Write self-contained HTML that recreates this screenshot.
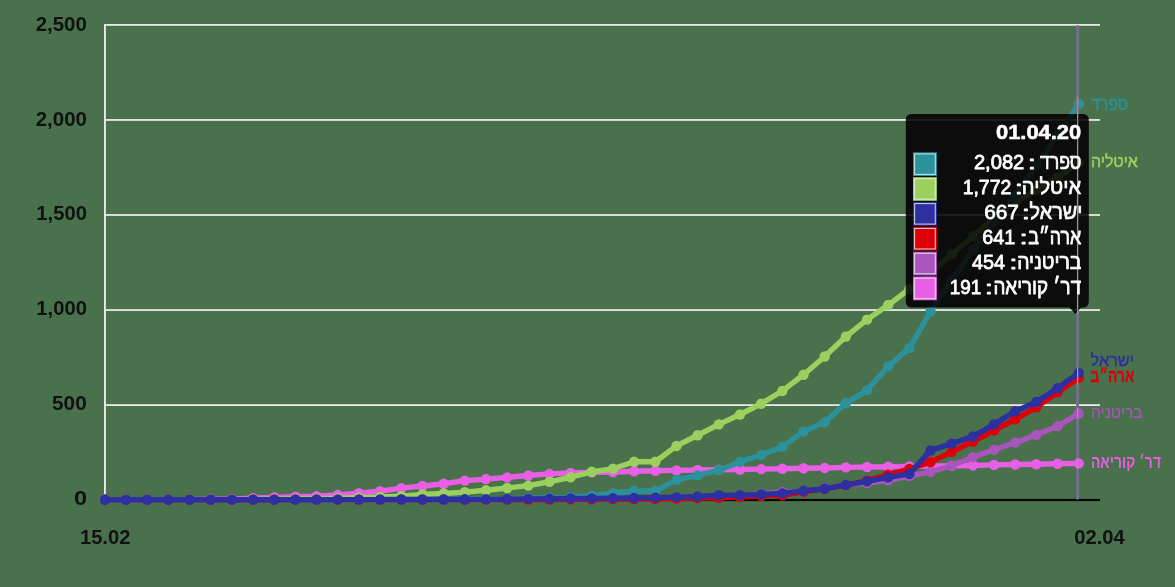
<!DOCTYPE html>
<html><head><meta charset="utf-8"><title>chart</title>
<style>
html,body{margin:0;padding:0;background:#48714c;}
body{width:1175px;height:587px;overflow:hidden;position:relative;font-family:"Liberation Sans",sans-serif;}
svg text{font-family:"Liberation Sans",sans-serif;}
svg{will-change:transform;}
</style></head><body>
<svg width="1175" height="587" viewBox="0 0 1175 587" style="position:absolute;left:0;top:0">
<rect width="1175" height="587" fill="#48714c"/>
<g id="plot">
<rect x="104" y="24.00" width="996" height="1.8" fill="#ece6ea"/>
<rect x="104" y="119.05" width="996" height="1.8" fill="#ece6ea"/>
<rect x="104" y="214.10" width="996" height="1.8" fill="#ece6ea"/>
<rect x="104" y="309.15" width="996" height="1.8" fill="#ece6ea"/>
<rect x="104" y="404.20" width="996" height="1.8" fill="#ece6ea"/>
<rect x="104.0" y="24" width="1.9" height="476" fill="#ece6ea"/>
<rect x="104" y="498.9" width="996" height="2.2" fill="#050505"/>
<rect x="1076.1" y="25.3" width="2.9" height="474.2" fill="#72728a"/>
<polyline points="104.90,499.60 126.07,499.59 147.24,499.59 168.41,499.59 189.58,499.59 210.75,499.32 231.92,498.96 253.09,498.10 274.26,497.50 295.43,496.64 316.60,496.11 337.77,495.06 358.94,493.22 380.11,491.11 401.28,488.13 422.45,485.98 443.62,483.78 464.79,480.66 485.96,479.07 507.13,477.36 528.30,475.49 549.47,473.86 570.64,472.85 591.81,472.25 612.98,472.11 634.15,471.24 655.32,470.82 676.49,470.40 697.66,470.02 718.83,469.74 740.00,469.47 761.17,469.17 782.34,468.82 803.51,468.25 824.68,467.93 845.85,467.40 867.02,467.04 888.19,466.81 909.36,466.53 930.53,466.16 951.70,465.78 972.87,465.44 994.04,464.91 1015.21,464.53 1036.38,464.25 1057.55,463.77 1078.72,463.41" fill="none" stroke="#e85fe6" stroke-width="5.4" stroke-linejoin="round" stroke-linecap="round"/>
<g fill="#e85fe6"><circle cx="104.90" cy="499.60" r="5.2"/><circle cx="126.07" cy="499.59" r="5.2"/><circle cx="147.24" cy="499.59" r="5.2"/><circle cx="168.41" cy="499.59" r="5.2"/><circle cx="189.58" cy="499.59" r="5.2"/><circle cx="210.75" cy="499.32" r="5.2"/><circle cx="231.92" cy="498.96" r="5.2"/><circle cx="253.09" cy="498.10" r="5.2"/><circle cx="274.26" cy="497.50" r="5.2"/><circle cx="295.43" cy="496.64" r="5.2"/><circle cx="316.60" cy="496.11" r="5.2"/><circle cx="337.77" cy="495.06" r="5.2"/><circle cx="358.94" cy="493.22" r="5.2"/><circle cx="380.11" cy="491.11" r="5.2"/><circle cx="401.28" cy="488.13" r="5.2"/><circle cx="422.45" cy="485.98" r="5.2"/><circle cx="443.62" cy="483.78" r="5.2"/><circle cx="464.79" cy="480.66" r="5.2"/><circle cx="485.96" cy="479.07" r="5.2"/><circle cx="507.13" cy="477.36" r="5.2"/><circle cx="528.30" cy="475.49" r="5.2"/><circle cx="549.47" cy="473.86" r="5.2"/><circle cx="570.64" cy="472.85" r="5.2"/><circle cx="591.81" cy="472.25" r="5.2"/><circle cx="612.98" cy="472.11" r="5.2"/><circle cx="634.15" cy="471.24" r="5.2"/><circle cx="655.32" cy="470.82" r="5.2"/><circle cx="676.49" cy="470.40" r="5.2"/><circle cx="697.66" cy="470.02" r="5.2"/><circle cx="718.83" cy="469.74" r="5.2"/><circle cx="740.00" cy="469.47" r="5.2"/><circle cx="761.17" cy="469.17" r="5.2"/><circle cx="782.34" cy="468.82" r="5.2"/><circle cx="803.51" cy="468.25" r="5.2"/><circle cx="824.68" cy="467.93" r="5.2"/><circle cx="845.85" cy="467.40" r="5.2"/><circle cx="867.02" cy="467.04" r="5.2"/><circle cx="888.19" cy="466.81" r="5.2"/><circle cx="909.36" cy="466.53" r="5.2"/><circle cx="930.53" cy="466.16" r="5.2"/><circle cx="951.70" cy="465.78" r="5.2"/><circle cx="972.87" cy="465.44" r="5.2"/><circle cx="994.04" cy="464.91" r="5.2"/><circle cx="1015.21" cy="464.53" r="5.2"/><circle cx="1036.38" cy="464.25" r="5.2"/><circle cx="1057.55" cy="463.77" r="5.2"/><circle cx="1078.72" cy="463.41" r="5.2"/></g>
<polyline points="104.90,499.68 126.07,499.68 147.24,499.68 168.41,499.68 189.58,499.68 210.75,499.68 231.92,499.68 253.09,499.68 274.26,499.66 295.43,499.66 316.60,499.66 337.77,499.66 358.94,499.66 380.11,499.64 401.28,499.64 422.45,499.60 443.62,499.59 464.79,499.55 485.96,499.45 507.13,499.36 528.30,499.22 549.47,499.11 570.64,498.90 591.81,498.77 612.98,498.60 634.15,498.37 655.32,498.37 676.49,497.38 697.66,496.39 718.83,496.39 740.00,495.22 761.17,494.04 782.34,492.06 803.51,491.85 824.68,488.11 845.85,485.07 867.02,483.11 888.19,480.28 909.36,476.12 930.53,471.87 951.70,465.59 972.87,457.12 994.04,449.71 1015.21,442.59 1036.38,434.87 1057.55,426.13 1078.72,413.46" fill="none" stroke="#aa55bd" stroke-width="5.4" stroke-linejoin="round" stroke-linecap="round"/>
<g fill="#aa55bd"><circle cx="104.90" cy="499.68" r="5.2"/><circle cx="126.07" cy="499.68" r="5.2"/><circle cx="147.24" cy="499.68" r="5.2"/><circle cx="168.41" cy="499.68" r="5.2"/><circle cx="189.58" cy="499.68" r="5.2"/><circle cx="210.75" cy="499.68" r="5.2"/><circle cx="231.92" cy="499.68" r="5.2"/><circle cx="253.09" cy="499.68" r="5.2"/><circle cx="274.26" cy="499.66" r="5.2"/><circle cx="295.43" cy="499.66" r="5.2"/><circle cx="316.60" cy="499.66" r="5.2"/><circle cx="337.77" cy="499.66" r="5.2"/><circle cx="358.94" cy="499.66" r="5.2"/><circle cx="380.11" cy="499.64" r="5.2"/><circle cx="401.28" cy="499.64" r="5.2"/><circle cx="422.45" cy="499.60" r="5.2"/><circle cx="443.62" cy="499.59" r="5.2"/><circle cx="464.79" cy="499.55" r="5.2"/><circle cx="485.96" cy="499.45" r="5.2"/><circle cx="507.13" cy="499.36" r="5.2"/><circle cx="528.30" cy="499.22" r="5.2"/><circle cx="549.47" cy="499.11" r="5.2"/><circle cx="570.64" cy="498.90" r="5.2"/><circle cx="591.81" cy="498.77" r="5.2"/><circle cx="612.98" cy="498.60" r="5.2"/><circle cx="634.15" cy="498.37" r="5.2"/><circle cx="655.32" cy="498.37" r="5.2"/><circle cx="676.49" cy="497.38" r="5.2"/><circle cx="697.66" cy="496.39" r="5.2"/><circle cx="718.83" cy="496.39" r="5.2"/><circle cx="740.00" cy="495.22" r="5.2"/><circle cx="761.17" cy="494.04" r="5.2"/><circle cx="782.34" cy="492.06" r="5.2"/><circle cx="803.51" cy="491.85" r="5.2"/><circle cx="824.68" cy="488.11" r="5.2"/><circle cx="845.85" cy="485.07" r="5.2"/><circle cx="867.02" cy="483.11" r="5.2"/><circle cx="888.19" cy="480.28" r="5.2"/><circle cx="909.36" cy="476.12" r="5.2"/><circle cx="930.53" cy="471.87" r="5.2"/><circle cx="951.70" cy="465.59" r="5.2"/><circle cx="972.87" cy="457.12" r="5.2"/><circle cx="994.04" cy="449.71" r="5.2"/><circle cx="1015.21" cy="442.59" r="5.2"/><circle cx="1036.38" cy="434.87" r="5.2"/><circle cx="1057.55" cy="426.13" r="5.2"/><circle cx="1078.72" cy="413.46" r="5.2"/></g>
<polyline points="104.90,499.70 126.07,499.70 147.24,499.70 168.41,499.70 189.58,499.70 210.75,499.70 231.92,499.64 253.09,499.51 274.26,499.22 295.43,499.00 316.60,498.71 337.77,498.31 358.94,497.70 380.11,497.00 401.28,496.26 422.45,494.55 443.62,493.51 464.79,492.08 485.96,490.30 507.13,487.96 528.30,485.58 549.47,481.78 570.64,477.24 591.81,471.77 612.98,468.81 634.15,461.76 655.32,461.76 676.49,445.93 697.66,435.27 718.83,424.35 740.00,414.50 761.17,403.77 782.34,390.96 803.51,374.76 824.68,356.53 845.85,336.57 867.02,319.64 888.19,305.04 909.36,289.07 930.53,273.20 951.70,254.31 972.87,236.32 994.04,218.14 1015.21,202.25 1036.38,189.92 1057.55,177.57 1078.72,163.02" fill="none" stroke="#9bd05e" stroke-width="5.4" stroke-linejoin="round" stroke-linecap="round"/>
<g fill="#9bd05e"><circle cx="104.90" cy="499.70" r="5.2"/><circle cx="126.07" cy="499.70" r="5.2"/><circle cx="147.24" cy="499.70" r="5.2"/><circle cx="168.41" cy="499.70" r="5.2"/><circle cx="189.58" cy="499.70" r="5.2"/><circle cx="210.75" cy="499.70" r="5.2"/><circle cx="231.92" cy="499.64" r="5.2"/><circle cx="253.09" cy="499.51" r="5.2"/><circle cx="274.26" cy="499.22" r="5.2"/><circle cx="295.43" cy="499.00" r="5.2"/><circle cx="316.60" cy="498.71" r="5.2"/><circle cx="337.77" cy="498.31" r="5.2"/><circle cx="358.94" cy="497.70" r="5.2"/><circle cx="380.11" cy="497.00" r="5.2"/><circle cx="401.28" cy="496.26" r="5.2"/><circle cx="422.45" cy="494.55" r="5.2"/><circle cx="443.62" cy="493.51" r="5.2"/><circle cx="464.79" cy="492.08" r="5.2"/><circle cx="485.96" cy="490.30" r="5.2"/><circle cx="507.13" cy="487.96" r="5.2"/><circle cx="528.30" cy="485.58" r="5.2"/><circle cx="549.47" cy="481.78" r="5.2"/><circle cx="570.64" cy="477.24" r="5.2"/><circle cx="591.81" cy="471.77" r="5.2"/><circle cx="612.98" cy="468.81" r="5.2"/><circle cx="634.15" cy="461.76" r="5.2"/><circle cx="655.32" cy="461.76" r="5.2"/><circle cx="676.49" cy="445.93" r="5.2"/><circle cx="697.66" cy="435.27" r="5.2"/><circle cx="718.83" cy="424.35" r="5.2"/><circle cx="740.00" cy="414.50" r="5.2"/><circle cx="761.17" cy="403.77" r="5.2"/><circle cx="782.34" cy="390.96" r="5.2"/><circle cx="803.51" cy="374.76" r="5.2"/><circle cx="824.68" cy="356.53" r="5.2"/><circle cx="845.85" cy="336.57" r="5.2"/><circle cx="867.02" cy="319.64" r="5.2"/><circle cx="888.19" cy="305.04" r="5.2"/><circle cx="909.36" cy="289.07" r="5.2"/><circle cx="930.53" cy="273.20" r="5.2"/><circle cx="951.70" cy="254.31" r="5.2"/><circle cx="972.87" cy="236.32" r="5.2"/><circle cx="994.04" cy="218.14" r="5.2"/><circle cx="1015.21" cy="202.25" r="5.2"/><circle cx="1036.38" cy="189.92" r="5.2"/><circle cx="1057.55" cy="177.57" r="5.2"/><circle cx="1078.72" cy="163.02" r="5.2"/></g>
<polyline points="104.90,499.70 126.07,499.70 147.24,499.70 168.41,499.70 189.58,499.70 210.75,499.70 231.92,499.70 253.09,499.70 274.26,499.70 295.43,499.70 316.60,499.68 337.77,499.64 358.94,499.64 380.11,499.59 401.28,499.53 422.45,499.38 443.62,499.24 464.79,499.07 485.96,498.86 507.13,498.71 528.30,498.18 549.47,497.80 570.64,497.13 591.81,495.62 612.98,493.26 634.15,491.06 655.32,491.06 676.49,479.83 697.66,475.42 718.83,470.06 740.00,461.93 761.17,455.05 782.34,446.84 803.51,431.43 824.68,422.14 845.85,403.27 867.02,390.37 888.19,366.19 909.36,348.14 930.53,311.54 951.70,280.12 972.87,249.96 994.04,221.41 1015.21,195.28 1036.38,165.47 1057.55,135.19 1078.72,104.04" fill="none" stroke="#2b929c" stroke-width="5.4" stroke-linejoin="round" stroke-linecap="round"/>
<g fill="#2b929c"><circle cx="104.90" cy="499.70" r="5.2"/><circle cx="126.07" cy="499.70" r="5.2"/><circle cx="147.24" cy="499.70" r="5.2"/><circle cx="168.41" cy="499.70" r="5.2"/><circle cx="189.58" cy="499.70" r="5.2"/><circle cx="210.75" cy="499.70" r="5.2"/><circle cx="231.92" cy="499.70" r="5.2"/><circle cx="253.09" cy="499.70" r="5.2"/><circle cx="274.26" cy="499.70" r="5.2"/><circle cx="295.43" cy="499.70" r="5.2"/><circle cx="316.60" cy="499.68" r="5.2"/><circle cx="337.77" cy="499.64" r="5.2"/><circle cx="358.94" cy="499.64" r="5.2"/><circle cx="380.11" cy="499.59" r="5.2"/><circle cx="401.28" cy="499.53" r="5.2"/><circle cx="422.45" cy="499.38" r="5.2"/><circle cx="443.62" cy="499.24" r="5.2"/><circle cx="464.79" cy="499.07" r="5.2"/><circle cx="485.96" cy="498.86" r="5.2"/><circle cx="507.13" cy="498.71" r="5.2"/><circle cx="528.30" cy="498.18" r="5.2"/><circle cx="549.47" cy="497.80" r="5.2"/><circle cx="570.64" cy="497.13" r="5.2"/><circle cx="591.81" cy="495.62" r="5.2"/><circle cx="612.98" cy="493.26" r="5.2"/><circle cx="634.15" cy="491.06" r="5.2"/><circle cx="655.32" cy="491.06" r="5.2"/><circle cx="676.49" cy="479.83" r="5.2"/><circle cx="697.66" cy="475.42" r="5.2"/><circle cx="718.83" cy="470.06" r="5.2"/><circle cx="740.00" cy="461.93" r="5.2"/><circle cx="761.17" cy="455.05" r="5.2"/><circle cx="782.34" cy="446.84" r="5.2"/><circle cx="803.51" cy="431.43" r="5.2"/><circle cx="824.68" cy="422.14" r="5.2"/><circle cx="845.85" cy="403.27" r="5.2"/><circle cx="867.02" cy="390.37" r="5.2"/><circle cx="888.19" cy="366.19" r="5.2"/><circle cx="909.36" cy="348.14" r="5.2"/><circle cx="930.53" cy="311.54" r="5.2"/><circle cx="951.70" cy="280.12" r="5.2"/><circle cx="972.87" cy="249.96" r="5.2"/><circle cx="994.04" cy="221.41" r="5.2"/><circle cx="1015.21" cy="195.28" r="5.2"/><circle cx="1036.38" cy="165.47" r="5.2"/><circle cx="1057.55" cy="135.19" r="5.2"/><circle cx="1078.72" cy="104.04" r="5.2"/></g>
<polyline points="104.90,499.70 126.07,499.70 147.24,499.70 168.41,499.70 189.58,499.70 210.75,499.70 231.92,499.70 253.09,499.70 274.26,499.70 295.43,499.66 316.60,499.66 337.77,499.66 358.94,499.66 380.11,499.66 401.28,499.66 422.45,499.66 443.62,499.64 464.79,499.62 485.96,499.62 507.13,499.57 528.30,499.55 549.47,499.47 570.64,499.40 591.81,499.36 612.98,499.15 634.15,498.98 655.32,498.75 676.49,498.46 697.66,498.14 718.83,497.70 740.00,497.06 761.17,496.03 782.34,495.25 803.51,491.89 824.68,488.79 845.85,485.15 867.02,480.70 888.19,474.68 909.36,469.03 930.53,462.16 951.70,451.86 972.87,441.67 994.04,430.37 1015.21,419.29 1036.38,407.34 1057.55,392.29 1078.72,377.93" fill="none" stroke="#dd0008" stroke-width="5.4" stroke-linejoin="round" stroke-linecap="round"/>
<g fill="#dd0008"><circle cx="104.90" cy="499.70" r="5.2"/><circle cx="126.07" cy="499.70" r="5.2"/><circle cx="147.24" cy="499.70" r="5.2"/><circle cx="168.41" cy="499.70" r="5.2"/><circle cx="189.58" cy="499.70" r="5.2"/><circle cx="210.75" cy="499.70" r="5.2"/><circle cx="231.92" cy="499.70" r="5.2"/><circle cx="253.09" cy="499.70" r="5.2"/><circle cx="274.26" cy="499.70" r="5.2"/><circle cx="295.43" cy="499.66" r="5.2"/><circle cx="316.60" cy="499.66" r="5.2"/><circle cx="337.77" cy="499.66" r="5.2"/><circle cx="358.94" cy="499.66" r="5.2"/><circle cx="380.11" cy="499.66" r="5.2"/><circle cx="401.28" cy="499.66" r="5.2"/><circle cx="422.45" cy="499.66" r="5.2"/><circle cx="443.62" cy="499.64" r="5.2"/><circle cx="464.79" cy="499.62" r="5.2"/><circle cx="485.96" cy="499.62" r="5.2"/><circle cx="507.13" cy="499.57" r="5.2"/><circle cx="528.30" cy="499.55" r="5.2"/><circle cx="549.47" cy="499.47" r="5.2"/><circle cx="570.64" cy="499.40" r="5.2"/><circle cx="591.81" cy="499.36" r="5.2"/><circle cx="612.98" cy="499.15" r="5.2"/><circle cx="634.15" cy="498.98" r="5.2"/><circle cx="655.32" cy="498.75" r="5.2"/><circle cx="676.49" cy="498.46" r="5.2"/><circle cx="697.66" cy="498.14" r="5.2"/><circle cx="718.83" cy="497.70" r="5.2"/><circle cx="740.00" cy="497.06" r="5.2"/><circle cx="761.17" cy="496.03" r="5.2"/><circle cx="782.34" cy="495.25" r="5.2"/><circle cx="803.51" cy="491.89" r="5.2"/><circle cx="824.68" cy="488.79" r="5.2"/><circle cx="845.85" cy="485.15" r="5.2"/><circle cx="867.02" cy="480.70" r="5.2"/><circle cx="888.19" cy="474.68" r="5.2"/><circle cx="909.36" cy="469.03" r="5.2"/><circle cx="930.53" cy="462.16" r="5.2"/><circle cx="951.70" cy="451.86" r="5.2"/><circle cx="972.87" cy="441.67" r="5.2"/><circle cx="994.04" cy="430.37" r="5.2"/><circle cx="1015.21" cy="419.29" r="5.2"/><circle cx="1036.38" cy="407.34" r="5.2"/><circle cx="1057.55" cy="392.29" r="5.2"/><circle cx="1078.72" cy="377.93" r="5.2"/></g>
<polyline points="104.90,499.70 126.07,499.70 147.24,499.70 168.41,499.70 189.58,499.70 210.75,499.70 231.92,499.68 253.09,499.68 274.26,499.68 295.43,499.68 316.60,499.68 337.77,499.66 358.94,499.64 380.11,499.62 401.28,499.55 422.45,499.49 443.62,499.49 464.79,499.45 485.96,499.40 507.13,499.28 528.30,498.92 549.47,498.81 570.64,498.43 591.81,498.43 612.98,498.14 634.15,498.05 655.32,497.61 676.49,497.08 697.66,496.47 718.83,495.27 740.00,495.16 761.17,494.49 782.34,493.37 803.51,490.81 824.68,488.70 845.85,484.88 867.02,481.33 888.19,477.41 909.36,473.94 930.53,450.39 951.70,443.65 972.87,436.54 994.04,424.38 1015.21,411.31 1036.38,402.00 1057.55,388.19 1078.72,372.91" fill="none" stroke="#2d30a0" stroke-width="5.4" stroke-linejoin="round" stroke-linecap="round"/>
<g fill="#2d30a0"><circle cx="104.90" cy="499.70" r="5.2"/><circle cx="126.07" cy="499.70" r="5.2"/><circle cx="147.24" cy="499.70" r="5.2"/><circle cx="168.41" cy="499.70" r="5.2"/><circle cx="189.58" cy="499.70" r="5.2"/><circle cx="210.75" cy="499.70" r="5.2"/><circle cx="231.92" cy="499.68" r="5.2"/><circle cx="253.09" cy="499.68" r="5.2"/><circle cx="274.26" cy="499.68" r="5.2"/><circle cx="295.43" cy="499.68" r="5.2"/><circle cx="316.60" cy="499.68" r="5.2"/><circle cx="337.77" cy="499.66" r="5.2"/><circle cx="358.94" cy="499.64" r="5.2"/><circle cx="380.11" cy="499.62" r="5.2"/><circle cx="401.28" cy="499.55" r="5.2"/><circle cx="422.45" cy="499.49" r="5.2"/><circle cx="443.62" cy="499.49" r="5.2"/><circle cx="464.79" cy="499.45" r="5.2"/><circle cx="485.96" cy="499.40" r="5.2"/><circle cx="507.13" cy="499.28" r="5.2"/><circle cx="528.30" cy="498.92" r="5.2"/><circle cx="549.47" cy="498.81" r="5.2"/><circle cx="570.64" cy="498.43" r="5.2"/><circle cx="591.81" cy="498.43" r="5.2"/><circle cx="612.98" cy="498.14" r="5.2"/><circle cx="634.15" cy="498.05" r="5.2"/><circle cx="655.32" cy="497.61" r="5.2"/><circle cx="676.49" cy="497.08" r="5.2"/><circle cx="697.66" cy="496.47" r="5.2"/><circle cx="718.83" cy="495.27" r="5.2"/><circle cx="740.00" cy="495.16" r="5.2"/><circle cx="761.17" cy="494.49" r="5.2"/><circle cx="782.34" cy="493.37" r="5.2"/><circle cx="803.51" cy="490.81" r="5.2"/><circle cx="824.68" cy="488.70" r="5.2"/><circle cx="845.85" cy="484.88" r="5.2"/><circle cx="867.02" cy="481.33" r="5.2"/><circle cx="888.19" cy="477.41" r="5.2"/><circle cx="909.36" cy="473.94" r="5.2"/><circle cx="930.53" cy="450.39" r="5.2"/><circle cx="951.70" cy="443.65" r="5.2"/><circle cx="972.87" cy="436.54" r="5.2"/><circle cx="994.04" cy="424.38" r="5.2"/><circle cx="1015.21" cy="411.31" r="5.2"/><circle cx="1036.38" cy="402.00" r="5.2"/><circle cx="1057.55" cy="388.19" r="5.2"/><circle cx="1078.72" cy="372.91" r="5.2"/></g>
</g>
<rect x="1076.1" y="96" width="2.9" height="17" fill="#74748a"/>
<text transform="translate(35.69,30.70) scale(1.0772,1.0615)" font-size="19" font-weight="bold" fill="#111">2,500</text>
<text transform="translate(35.69,125.55) scale(1.0772,1.0619)" font-size="19" font-weight="bold" fill="#111">2,000</text>
<text transform="translate(36.33,220.40) scale(1.0634,1.0615)" font-size="19" font-weight="bold" fill="#111">1,500</text>
<text transform="translate(36.33,315.25) scale(1.0634,1.0615)" font-size="19" font-weight="bold" fill="#111">1,000</text>
<text transform="translate(52.10,410.10) scale(1.0904,1.0615)" font-size="19" font-weight="bold" fill="#111">500</text>
<text transform="translate(73.97,504.95) scale(1.2374,1.0625)" font-size="19" font-weight="bold" fill="#111">0</text>
<text transform="translate(79.94,543.90) scale(1.0605,1.0462)" font-size="19" font-weight="bold" fill="#111">15.02</text>
<text transform="translate(1074.20,544.00) scale(1.0621,1.0538)" font-size="19" font-weight="bold" fill="#111">02.04</text>
<text transform="translate(1091.09,109.50) scale(1.0210,1.1300)" font-size="15.5" font-weight="normal" fill="#2b929c" stroke="#2b929c" stroke-width="0.3" stroke-linejoin="round">ספרד</text>
<text transform="translate(1090.97,167.20) scale(1.0285,1.0600)" font-size="15.5" font-weight="normal" fill="#9bd05e" stroke="#9bd05e" stroke-width="0.5" stroke-linejoin="round">איטליה</text>
<text transform="translate(1090.61,366.30) scale(1.0529,1.0500)" font-size="15.5" font-weight="normal" fill="#2d30a0" stroke="#2d30a0" stroke-width="0.4" stroke-linejoin="round">ישראל</text>
<text transform="translate(1090.55,381.80) scale(0.8931,1.1800)" font-size="15.5" font-weight="bold" fill="#dd0008" stroke="#dd0008" stroke-width="0.3" stroke-linejoin="round">ארה״ב</text>
<text transform="translate(1091.04,418.30) scale(1.0078,1.1300)" font-size="15.5" font-weight="normal" fill="#aa55bd" stroke="#aa55bd" stroke-width="0.2" stroke-linejoin="round">בריטניה</text>
<text transform="translate(1090.88,468.20) scale(0.8990,1.1200)" font-size="15.5" font-weight="bold" fill="#e85fe6">דר׳ קוריאה</text>
<clipPath id="ttc"><path d="M911.3 114 H1083.3 a5.5 5.5 0 0 1 5.5 5.5 V302 a5.5 5.5 0 0 1 -5.5 5.5 H1081 L1075.3 314 L1069.5 307.5 H911.3 a5.5 5.5 0 0 1 -5.5 -5.5 V119.5 a5.5 5.5 0 0 1 5.5 -5.5 Z"/></clipPath>
<path d="M911.3 114 H1083.3 a5.5 5.5 0 0 1 5.5 5.5 V302 a5.5 5.5 0 0 1 -5.5 5.5 H1081 L1075.3 314 L1069.5 307.5 H911.3 a5.5 5.5 0 0 1 -5.5 -5.5 V119.5 a5.5 5.5 0 0 1 5.5 -5.5 Z" fill="#0c0c0c"/>
<g clip-path="url(#ttc)" opacity="0.09"><rect x="104" y="24.00" width="996" height="1.8" fill="#ece6ea"/><rect x="104" y="119.05" width="996" height="1.8" fill="#ece6ea"/><rect x="104" y="214.10" width="996" height="1.8" fill="#ece6ea"/><rect x="104" y="309.15" width="996" height="1.8" fill="#ece6ea"/><rect x="104" y="404.20" width="996" height="1.8" fill="#ece6ea"/><rect x="104.0" y="24" width="1.9" height="476" fill="#ece6ea"/><rect x="104" y="498.9" width="996" height="2.2" fill="#050505"/><rect x="1076.1" y="25.3" width="2.9" height="474.2" fill="#72728a"/><polyline points="104.90,499.60 126.07,499.59 147.24,499.59 168.41,499.59 189.58,499.59 210.75,499.32 231.92,498.96 253.09,498.10 274.26,497.50 295.43,496.64 316.60,496.11 337.77,495.06 358.94,493.22 380.11,491.11 401.28,488.13 422.45,485.98 443.62,483.78 464.79,480.66 485.96,479.07 507.13,477.36 528.30,475.49 549.47,473.86 570.64,472.85 591.81,472.25 612.98,472.11 634.15,471.24 655.32,470.82 676.49,470.40 697.66,470.02 718.83,469.74 740.00,469.47 761.17,469.17 782.34,468.82 803.51,468.25 824.68,467.93 845.85,467.40 867.02,467.04 888.19,466.81 909.36,466.53 930.53,466.16 951.70,465.78 972.87,465.44 994.04,464.91 1015.21,464.53 1036.38,464.25 1057.55,463.77 1078.72,463.41" fill="none" stroke="#e85fe6" stroke-width="5.4" stroke-linejoin="round" stroke-linecap="round"/><g fill="#e85fe6"><circle cx="104.90" cy="499.60" r="5.2"/><circle cx="126.07" cy="499.59" r="5.2"/><circle cx="147.24" cy="499.59" r="5.2"/><circle cx="168.41" cy="499.59" r="5.2"/><circle cx="189.58" cy="499.59" r="5.2"/><circle cx="210.75" cy="499.32" r="5.2"/><circle cx="231.92" cy="498.96" r="5.2"/><circle cx="253.09" cy="498.10" r="5.2"/><circle cx="274.26" cy="497.50" r="5.2"/><circle cx="295.43" cy="496.64" r="5.2"/><circle cx="316.60" cy="496.11" r="5.2"/><circle cx="337.77" cy="495.06" r="5.2"/><circle cx="358.94" cy="493.22" r="5.2"/><circle cx="380.11" cy="491.11" r="5.2"/><circle cx="401.28" cy="488.13" r="5.2"/><circle cx="422.45" cy="485.98" r="5.2"/><circle cx="443.62" cy="483.78" r="5.2"/><circle cx="464.79" cy="480.66" r="5.2"/><circle cx="485.96" cy="479.07" r="5.2"/><circle cx="507.13" cy="477.36" r="5.2"/><circle cx="528.30" cy="475.49" r="5.2"/><circle cx="549.47" cy="473.86" r="5.2"/><circle cx="570.64" cy="472.85" r="5.2"/><circle cx="591.81" cy="472.25" r="5.2"/><circle cx="612.98" cy="472.11" r="5.2"/><circle cx="634.15" cy="471.24" r="5.2"/><circle cx="655.32" cy="470.82" r="5.2"/><circle cx="676.49" cy="470.40" r="5.2"/><circle cx="697.66" cy="470.02" r="5.2"/><circle cx="718.83" cy="469.74" r="5.2"/><circle cx="740.00" cy="469.47" r="5.2"/><circle cx="761.17" cy="469.17" r="5.2"/><circle cx="782.34" cy="468.82" r="5.2"/><circle cx="803.51" cy="468.25" r="5.2"/><circle cx="824.68" cy="467.93" r="5.2"/><circle cx="845.85" cy="467.40" r="5.2"/><circle cx="867.02" cy="467.04" r="5.2"/><circle cx="888.19" cy="466.81" r="5.2"/><circle cx="909.36" cy="466.53" r="5.2"/><circle cx="930.53" cy="466.16" r="5.2"/><circle cx="951.70" cy="465.78" r="5.2"/><circle cx="972.87" cy="465.44" r="5.2"/><circle cx="994.04" cy="464.91" r="5.2"/><circle cx="1015.21" cy="464.53" r="5.2"/><circle cx="1036.38" cy="464.25" r="5.2"/><circle cx="1057.55" cy="463.77" r="5.2"/><circle cx="1078.72" cy="463.41" r="5.2"/></g><polyline points="104.90,499.68 126.07,499.68 147.24,499.68 168.41,499.68 189.58,499.68 210.75,499.68 231.92,499.68 253.09,499.68 274.26,499.66 295.43,499.66 316.60,499.66 337.77,499.66 358.94,499.66 380.11,499.64 401.28,499.64 422.45,499.60 443.62,499.59 464.79,499.55 485.96,499.45 507.13,499.36 528.30,499.22 549.47,499.11 570.64,498.90 591.81,498.77 612.98,498.60 634.15,498.37 655.32,498.37 676.49,497.38 697.66,496.39 718.83,496.39 740.00,495.22 761.17,494.04 782.34,492.06 803.51,491.85 824.68,488.11 845.85,485.07 867.02,483.11 888.19,480.28 909.36,476.12 930.53,471.87 951.70,465.59 972.87,457.12 994.04,449.71 1015.21,442.59 1036.38,434.87 1057.55,426.13 1078.72,413.46" fill="none" stroke="#aa55bd" stroke-width="5.4" stroke-linejoin="round" stroke-linecap="round"/><g fill="#aa55bd"><circle cx="104.90" cy="499.68" r="5.2"/><circle cx="126.07" cy="499.68" r="5.2"/><circle cx="147.24" cy="499.68" r="5.2"/><circle cx="168.41" cy="499.68" r="5.2"/><circle cx="189.58" cy="499.68" r="5.2"/><circle cx="210.75" cy="499.68" r="5.2"/><circle cx="231.92" cy="499.68" r="5.2"/><circle cx="253.09" cy="499.68" r="5.2"/><circle cx="274.26" cy="499.66" r="5.2"/><circle cx="295.43" cy="499.66" r="5.2"/><circle cx="316.60" cy="499.66" r="5.2"/><circle cx="337.77" cy="499.66" r="5.2"/><circle cx="358.94" cy="499.66" r="5.2"/><circle cx="380.11" cy="499.64" r="5.2"/><circle cx="401.28" cy="499.64" r="5.2"/><circle cx="422.45" cy="499.60" r="5.2"/><circle cx="443.62" cy="499.59" r="5.2"/><circle cx="464.79" cy="499.55" r="5.2"/><circle cx="485.96" cy="499.45" r="5.2"/><circle cx="507.13" cy="499.36" r="5.2"/><circle cx="528.30" cy="499.22" r="5.2"/><circle cx="549.47" cy="499.11" r="5.2"/><circle cx="570.64" cy="498.90" r="5.2"/><circle cx="591.81" cy="498.77" r="5.2"/><circle cx="612.98" cy="498.60" r="5.2"/><circle cx="634.15" cy="498.37" r="5.2"/><circle cx="655.32" cy="498.37" r="5.2"/><circle cx="676.49" cy="497.38" r="5.2"/><circle cx="697.66" cy="496.39" r="5.2"/><circle cx="718.83" cy="496.39" r="5.2"/><circle cx="740.00" cy="495.22" r="5.2"/><circle cx="761.17" cy="494.04" r="5.2"/><circle cx="782.34" cy="492.06" r="5.2"/><circle cx="803.51" cy="491.85" r="5.2"/><circle cx="824.68" cy="488.11" r="5.2"/><circle cx="845.85" cy="485.07" r="5.2"/><circle cx="867.02" cy="483.11" r="5.2"/><circle cx="888.19" cy="480.28" r="5.2"/><circle cx="909.36" cy="476.12" r="5.2"/><circle cx="930.53" cy="471.87" r="5.2"/><circle cx="951.70" cy="465.59" r="5.2"/><circle cx="972.87" cy="457.12" r="5.2"/><circle cx="994.04" cy="449.71" r="5.2"/><circle cx="1015.21" cy="442.59" r="5.2"/><circle cx="1036.38" cy="434.87" r="5.2"/><circle cx="1057.55" cy="426.13" r="5.2"/><circle cx="1078.72" cy="413.46" r="5.2"/></g><polyline points="104.90,499.70 126.07,499.70 147.24,499.70 168.41,499.70 189.58,499.70 210.75,499.70 231.92,499.64 253.09,499.51 274.26,499.22 295.43,499.00 316.60,498.71 337.77,498.31 358.94,497.70 380.11,497.00 401.28,496.26 422.45,494.55 443.62,493.51 464.79,492.08 485.96,490.30 507.13,487.96 528.30,485.58 549.47,481.78 570.64,477.24 591.81,471.77 612.98,468.81 634.15,461.76 655.32,461.76 676.49,445.93 697.66,435.27 718.83,424.35 740.00,414.50 761.17,403.77 782.34,390.96 803.51,374.76 824.68,356.53 845.85,336.57 867.02,319.64 888.19,305.04 909.36,289.07 930.53,273.20 951.70,254.31 972.87,236.32 994.04,218.14 1015.21,202.25 1036.38,189.92 1057.55,177.57 1078.72,163.02" fill="none" stroke="#9bd05e" stroke-width="5.4" stroke-linejoin="round" stroke-linecap="round"/><g fill="#9bd05e"><circle cx="104.90" cy="499.70" r="5.2"/><circle cx="126.07" cy="499.70" r="5.2"/><circle cx="147.24" cy="499.70" r="5.2"/><circle cx="168.41" cy="499.70" r="5.2"/><circle cx="189.58" cy="499.70" r="5.2"/><circle cx="210.75" cy="499.70" r="5.2"/><circle cx="231.92" cy="499.64" r="5.2"/><circle cx="253.09" cy="499.51" r="5.2"/><circle cx="274.26" cy="499.22" r="5.2"/><circle cx="295.43" cy="499.00" r="5.2"/><circle cx="316.60" cy="498.71" r="5.2"/><circle cx="337.77" cy="498.31" r="5.2"/><circle cx="358.94" cy="497.70" r="5.2"/><circle cx="380.11" cy="497.00" r="5.2"/><circle cx="401.28" cy="496.26" r="5.2"/><circle cx="422.45" cy="494.55" r="5.2"/><circle cx="443.62" cy="493.51" r="5.2"/><circle cx="464.79" cy="492.08" r="5.2"/><circle cx="485.96" cy="490.30" r="5.2"/><circle cx="507.13" cy="487.96" r="5.2"/><circle cx="528.30" cy="485.58" r="5.2"/><circle cx="549.47" cy="481.78" r="5.2"/><circle cx="570.64" cy="477.24" r="5.2"/><circle cx="591.81" cy="471.77" r="5.2"/><circle cx="612.98" cy="468.81" r="5.2"/><circle cx="634.15" cy="461.76" r="5.2"/><circle cx="655.32" cy="461.76" r="5.2"/><circle cx="676.49" cy="445.93" r="5.2"/><circle cx="697.66" cy="435.27" r="5.2"/><circle cx="718.83" cy="424.35" r="5.2"/><circle cx="740.00" cy="414.50" r="5.2"/><circle cx="761.17" cy="403.77" r="5.2"/><circle cx="782.34" cy="390.96" r="5.2"/><circle cx="803.51" cy="374.76" r="5.2"/><circle cx="824.68" cy="356.53" r="5.2"/><circle cx="845.85" cy="336.57" r="5.2"/><circle cx="867.02" cy="319.64" r="5.2"/><circle cx="888.19" cy="305.04" r="5.2"/><circle cx="909.36" cy="289.07" r="5.2"/><circle cx="930.53" cy="273.20" r="5.2"/><circle cx="951.70" cy="254.31" r="5.2"/><circle cx="972.87" cy="236.32" r="5.2"/><circle cx="994.04" cy="218.14" r="5.2"/><circle cx="1015.21" cy="202.25" r="5.2"/><circle cx="1036.38" cy="189.92" r="5.2"/><circle cx="1057.55" cy="177.57" r="5.2"/><circle cx="1078.72" cy="163.02" r="5.2"/></g><polyline points="104.90,499.70 126.07,499.70 147.24,499.70 168.41,499.70 189.58,499.70 210.75,499.70 231.92,499.70 253.09,499.70 274.26,499.70 295.43,499.70 316.60,499.68 337.77,499.64 358.94,499.64 380.11,499.59 401.28,499.53 422.45,499.38 443.62,499.24 464.79,499.07 485.96,498.86 507.13,498.71 528.30,498.18 549.47,497.80 570.64,497.13 591.81,495.62 612.98,493.26 634.15,491.06 655.32,491.06 676.49,479.83 697.66,475.42 718.83,470.06 740.00,461.93 761.17,455.05 782.34,446.84 803.51,431.43 824.68,422.14 845.85,403.27 867.02,390.37 888.19,366.19 909.36,348.14 930.53,311.54 951.70,280.12 972.87,249.96 994.04,221.41 1015.21,195.28 1036.38,165.47 1057.55,135.19 1078.72,104.04" fill="none" stroke="#2b929c" stroke-width="5.4" stroke-linejoin="round" stroke-linecap="round"/><g fill="#2b929c"><circle cx="104.90" cy="499.70" r="5.2"/><circle cx="126.07" cy="499.70" r="5.2"/><circle cx="147.24" cy="499.70" r="5.2"/><circle cx="168.41" cy="499.70" r="5.2"/><circle cx="189.58" cy="499.70" r="5.2"/><circle cx="210.75" cy="499.70" r="5.2"/><circle cx="231.92" cy="499.70" r="5.2"/><circle cx="253.09" cy="499.70" r="5.2"/><circle cx="274.26" cy="499.70" r="5.2"/><circle cx="295.43" cy="499.70" r="5.2"/><circle cx="316.60" cy="499.68" r="5.2"/><circle cx="337.77" cy="499.64" r="5.2"/><circle cx="358.94" cy="499.64" r="5.2"/><circle cx="380.11" cy="499.59" r="5.2"/><circle cx="401.28" cy="499.53" r="5.2"/><circle cx="422.45" cy="499.38" r="5.2"/><circle cx="443.62" cy="499.24" r="5.2"/><circle cx="464.79" cy="499.07" r="5.2"/><circle cx="485.96" cy="498.86" r="5.2"/><circle cx="507.13" cy="498.71" r="5.2"/><circle cx="528.30" cy="498.18" r="5.2"/><circle cx="549.47" cy="497.80" r="5.2"/><circle cx="570.64" cy="497.13" r="5.2"/><circle cx="591.81" cy="495.62" r="5.2"/><circle cx="612.98" cy="493.26" r="5.2"/><circle cx="634.15" cy="491.06" r="5.2"/><circle cx="655.32" cy="491.06" r="5.2"/><circle cx="676.49" cy="479.83" r="5.2"/><circle cx="697.66" cy="475.42" r="5.2"/><circle cx="718.83" cy="470.06" r="5.2"/><circle cx="740.00" cy="461.93" r="5.2"/><circle cx="761.17" cy="455.05" r="5.2"/><circle cx="782.34" cy="446.84" r="5.2"/><circle cx="803.51" cy="431.43" r="5.2"/><circle cx="824.68" cy="422.14" r="5.2"/><circle cx="845.85" cy="403.27" r="5.2"/><circle cx="867.02" cy="390.37" r="5.2"/><circle cx="888.19" cy="366.19" r="5.2"/><circle cx="909.36" cy="348.14" r="5.2"/><circle cx="930.53" cy="311.54" r="5.2"/><circle cx="951.70" cy="280.12" r="5.2"/><circle cx="972.87" cy="249.96" r="5.2"/><circle cx="994.04" cy="221.41" r="5.2"/><circle cx="1015.21" cy="195.28" r="5.2"/><circle cx="1036.38" cy="165.47" r="5.2"/><circle cx="1057.55" cy="135.19" r="5.2"/><circle cx="1078.72" cy="104.04" r="5.2"/></g><polyline points="104.90,499.70 126.07,499.70 147.24,499.70 168.41,499.70 189.58,499.70 210.75,499.70 231.92,499.70 253.09,499.70 274.26,499.70 295.43,499.66 316.60,499.66 337.77,499.66 358.94,499.66 380.11,499.66 401.28,499.66 422.45,499.66 443.62,499.64 464.79,499.62 485.96,499.62 507.13,499.57 528.30,499.55 549.47,499.47 570.64,499.40 591.81,499.36 612.98,499.15 634.15,498.98 655.32,498.75 676.49,498.46 697.66,498.14 718.83,497.70 740.00,497.06 761.17,496.03 782.34,495.25 803.51,491.89 824.68,488.79 845.85,485.15 867.02,480.70 888.19,474.68 909.36,469.03 930.53,462.16 951.70,451.86 972.87,441.67 994.04,430.37 1015.21,419.29 1036.38,407.34 1057.55,392.29 1078.72,377.93" fill="none" stroke="#dd0008" stroke-width="5.4" stroke-linejoin="round" stroke-linecap="round"/><g fill="#dd0008"><circle cx="104.90" cy="499.70" r="5.2"/><circle cx="126.07" cy="499.70" r="5.2"/><circle cx="147.24" cy="499.70" r="5.2"/><circle cx="168.41" cy="499.70" r="5.2"/><circle cx="189.58" cy="499.70" r="5.2"/><circle cx="210.75" cy="499.70" r="5.2"/><circle cx="231.92" cy="499.70" r="5.2"/><circle cx="253.09" cy="499.70" r="5.2"/><circle cx="274.26" cy="499.70" r="5.2"/><circle cx="295.43" cy="499.66" r="5.2"/><circle cx="316.60" cy="499.66" r="5.2"/><circle cx="337.77" cy="499.66" r="5.2"/><circle cx="358.94" cy="499.66" r="5.2"/><circle cx="380.11" cy="499.66" r="5.2"/><circle cx="401.28" cy="499.66" r="5.2"/><circle cx="422.45" cy="499.66" r="5.2"/><circle cx="443.62" cy="499.64" r="5.2"/><circle cx="464.79" cy="499.62" r="5.2"/><circle cx="485.96" cy="499.62" r="5.2"/><circle cx="507.13" cy="499.57" r="5.2"/><circle cx="528.30" cy="499.55" r="5.2"/><circle cx="549.47" cy="499.47" r="5.2"/><circle cx="570.64" cy="499.40" r="5.2"/><circle cx="591.81" cy="499.36" r="5.2"/><circle cx="612.98" cy="499.15" r="5.2"/><circle cx="634.15" cy="498.98" r="5.2"/><circle cx="655.32" cy="498.75" r="5.2"/><circle cx="676.49" cy="498.46" r="5.2"/><circle cx="697.66" cy="498.14" r="5.2"/><circle cx="718.83" cy="497.70" r="5.2"/><circle cx="740.00" cy="497.06" r="5.2"/><circle cx="761.17" cy="496.03" r="5.2"/><circle cx="782.34" cy="495.25" r="5.2"/><circle cx="803.51" cy="491.89" r="5.2"/><circle cx="824.68" cy="488.79" r="5.2"/><circle cx="845.85" cy="485.15" r="5.2"/><circle cx="867.02" cy="480.70" r="5.2"/><circle cx="888.19" cy="474.68" r="5.2"/><circle cx="909.36" cy="469.03" r="5.2"/><circle cx="930.53" cy="462.16" r="5.2"/><circle cx="951.70" cy="451.86" r="5.2"/><circle cx="972.87" cy="441.67" r="5.2"/><circle cx="994.04" cy="430.37" r="5.2"/><circle cx="1015.21" cy="419.29" r="5.2"/><circle cx="1036.38" cy="407.34" r="5.2"/><circle cx="1057.55" cy="392.29" r="5.2"/><circle cx="1078.72" cy="377.93" r="5.2"/></g><polyline points="104.90,499.70 126.07,499.70 147.24,499.70 168.41,499.70 189.58,499.70 210.75,499.70 231.92,499.68 253.09,499.68 274.26,499.68 295.43,499.68 316.60,499.68 337.77,499.66 358.94,499.64 380.11,499.62 401.28,499.55 422.45,499.49 443.62,499.49 464.79,499.45 485.96,499.40 507.13,499.28 528.30,498.92 549.47,498.81 570.64,498.43 591.81,498.43 612.98,498.14 634.15,498.05 655.32,497.61 676.49,497.08 697.66,496.47 718.83,495.27 740.00,495.16 761.17,494.49 782.34,493.37 803.51,490.81 824.68,488.70 845.85,484.88 867.02,481.33 888.19,477.41 909.36,473.94 930.53,450.39 951.70,443.65 972.87,436.54 994.04,424.38 1015.21,411.31 1036.38,402.00 1057.55,388.19 1078.72,372.91" fill="none" stroke="#2d30a0" stroke-width="5.4" stroke-linejoin="round" stroke-linecap="round"/><g fill="#2d30a0"><circle cx="104.90" cy="499.70" r="5.2"/><circle cx="126.07" cy="499.70" r="5.2"/><circle cx="147.24" cy="499.70" r="5.2"/><circle cx="168.41" cy="499.70" r="5.2"/><circle cx="189.58" cy="499.70" r="5.2"/><circle cx="210.75" cy="499.70" r="5.2"/><circle cx="231.92" cy="499.68" r="5.2"/><circle cx="253.09" cy="499.68" r="5.2"/><circle cx="274.26" cy="499.68" r="5.2"/><circle cx="295.43" cy="499.68" r="5.2"/><circle cx="316.60" cy="499.68" r="5.2"/><circle cx="337.77" cy="499.66" r="5.2"/><circle cx="358.94" cy="499.64" r="5.2"/><circle cx="380.11" cy="499.62" r="5.2"/><circle cx="401.28" cy="499.55" r="5.2"/><circle cx="422.45" cy="499.49" r="5.2"/><circle cx="443.62" cy="499.49" r="5.2"/><circle cx="464.79" cy="499.45" r="5.2"/><circle cx="485.96" cy="499.40" r="5.2"/><circle cx="507.13" cy="499.28" r="5.2"/><circle cx="528.30" cy="498.92" r="5.2"/><circle cx="549.47" cy="498.81" r="5.2"/><circle cx="570.64" cy="498.43" r="5.2"/><circle cx="591.81" cy="498.43" r="5.2"/><circle cx="612.98" cy="498.14" r="5.2"/><circle cx="634.15" cy="498.05" r="5.2"/><circle cx="655.32" cy="497.61" r="5.2"/><circle cx="676.49" cy="497.08" r="5.2"/><circle cx="697.66" cy="496.47" r="5.2"/><circle cx="718.83" cy="495.27" r="5.2"/><circle cx="740.00" cy="495.16" r="5.2"/><circle cx="761.17" cy="494.49" r="5.2"/><circle cx="782.34" cy="493.37" r="5.2"/><circle cx="803.51" cy="490.81" r="5.2"/><circle cx="824.68" cy="488.70" r="5.2"/><circle cx="845.85" cy="484.88" r="5.2"/><circle cx="867.02" cy="481.33" r="5.2"/><circle cx="888.19" cy="477.41" r="5.2"/><circle cx="909.36" cy="473.94" r="5.2"/><circle cx="930.53" cy="450.39" r="5.2"/><circle cx="951.70" cy="443.65" r="5.2"/><circle cx="972.87" cy="436.54" r="5.2"/><circle cx="994.04" cy="424.38" r="5.2"/><circle cx="1015.21" cy="411.31" r="5.2"/><circle cx="1036.38" cy="402.00" r="5.2"/><circle cx="1057.55" cy="388.19" r="5.2"/><circle cx="1078.72" cy="372.91" r="5.2"/></g></g>
<rect x="1077.0" y="97" width="1.25" height="217" fill="#929292"/>
<rect x="1077.0" y="367.61" width="1.25" height="10.6" fill="#9a9aa0"/>
<rect x="1077.0" y="372.63" width="1.25" height="10.6" fill="#9a9aa0"/>
<rect x="1077.0" y="408.16" width="1.25" height="10.6" fill="#9a9aa0"/>
<rect x="1077.0" y="458.11" width="1.25" height="10.6" fill="#9a9aa0"/>
<text transform="translate(996.02,138.80) scale(1.1530,1.0264)" font-size="19" font-weight="bold" fill="#fff" stroke="#fff" stroke-width="0.5" stroke-linejoin="round">01.04.20</text>
<rect x="913" y="152.30" width="23.9" height="23.7" fill="#2b929c"/>
<rect x="914.6" y="153.90" width="20.7" height="20.5" fill="none" stroke="#e6eef2" stroke-opacity="0.8" stroke-width="1.1"/>
<text transform="translate(973.91,169.40) scale(1.0605,1.0168)" font-size="19" font-weight="normal" fill="#fff" stroke="#fff" stroke-width="0.75" stroke-linejoin="round">2,082</text>
<text transform="translate(1027.83,169.40) scale(1.5599,1.0000)" font-size="19" font-weight="normal" fill="#fff" stroke="#fff" stroke-width="0.75" stroke-linejoin="round">:</text>
<text transform="translate(1039.92,169.40) scale(0.8069,1.0000)" font-size="22" font-weight="normal" fill="#fff" stroke="#fff" stroke-width="0.75" stroke-linejoin="round">ספרד</text>
<rect x="913" y="177.15" width="23.9" height="23.7" fill="#9bd05e"/>
<rect x="914.6" y="178.75" width="20.7" height="20.5" fill="none" stroke="#e6eef2" stroke-opacity="0.8" stroke-width="1.1"/>
<text transform="translate(962.65,194.22) scale(1.0235,1.0168)" font-size="19" font-weight="normal" fill="#fff" stroke="#fff" stroke-width="0.75" stroke-linejoin="round">1,772</text>
<text transform="translate(1014.83,194.22) scale(1.5599,1.0000)" font-size="19" font-weight="normal" fill="#fff" stroke="#fff" stroke-width="0.75" stroke-linejoin="round">:</text>
<text transform="translate(1021.82,194.22) scale(0.9153,1.0000)" font-size="22" font-weight="normal" fill="#fff" stroke="#fff" stroke-width="0.75" stroke-linejoin="round">איטליה</text>
<rect x="913" y="202.00" width="23.9" height="23.7" fill="#2d30a0"/>
<rect x="914.6" y="203.60" width="20.7" height="20.5" fill="none" stroke="#e6eef2" stroke-opacity="0.8" stroke-width="1.1"/>
<text transform="translate(984.19,219.04) scale(1.0921,1.0168)" font-size="19" font-weight="normal" fill="#fff" stroke="#fff" stroke-width="0.75" stroke-linejoin="round">667</text>
<text transform="translate(1021.73,219.04) scale(1.5599,1.0000)" font-size="19" font-weight="normal" fill="#fff" stroke="#fff" stroke-width="0.75" stroke-linejoin="round">:</text>
<text transform="translate(1029.57,219.04) scale(0.9017,1.0000)" font-size="22" font-weight="normal" fill="#fff" stroke="#fff" stroke-width="0.75" stroke-linejoin="round">ישראל</text>
<rect x="913" y="226.85" width="23.9" height="23.7" fill="#dd0008"/>
<rect x="914.6" y="228.45" width="20.7" height="20.5" fill="none" stroke="#e6eef2" stroke-opacity="0.8" stroke-width="1.1"/>
<text transform="translate(982.13,243.86) scale(1.0428,1.0180)" font-size="19" font-weight="normal" fill="#fff" stroke="#fff" stroke-width="0.75" stroke-linejoin="round">641</text>
<text transform="translate(1019.53,243.86) scale(1.5599,1.0000)" font-size="19" font-weight="normal" fill="#fff" stroke="#fff" stroke-width="0.75" stroke-linejoin="round">:</text>
<text transform="translate(1028.23,243.86) scale(0.8110,1.0000)" font-size="22" font-weight="normal" fill="#fff" stroke="#fff" stroke-width="0.75" stroke-linejoin="round">ארה״ב</text>
<rect x="913" y="251.70" width="23.9" height="23.7" fill="#aa55bd"/>
<rect x="914.6" y="253.30" width="20.7" height="20.5" fill="none" stroke="#e6eef2" stroke-opacity="0.8" stroke-width="1.1"/>
<text transform="translate(971.90,268.68) scale(1.0461,1.0168)" font-size="19" font-weight="normal" fill="#fff" stroke="#fff" stroke-width="0.75" stroke-linejoin="round">454</text>
<text transform="translate(1009.33,268.68) scale(1.5599,1.0000)" font-size="19" font-weight="normal" fill="#fff" stroke="#fff" stroke-width="0.75" stroke-linejoin="round">:</text>
<text transform="translate(1017.17,268.68) scale(0.8837,1.0000)" font-size="22" font-weight="normal" fill="#fff" stroke="#fff" stroke-width="0.75" stroke-linejoin="round">בריטניה</text>
<rect x="913" y="276.55" width="23.9" height="23.7" fill="#e85fe6"/>
<rect x="914.6" y="278.15" width="20.7" height="20.5" fill="none" stroke="#e6eef2" stroke-opacity="0.8" stroke-width="1.1"/>
<text transform="translate(949.78,293.50) scale(0.9962,1.0168)" font-size="19" font-weight="normal" fill="#fff" stroke="#fff" stroke-width="0.75" stroke-linejoin="round">191</text>
<text transform="translate(984.83,293.50) scale(1.5599,1.0000)" font-size="19" font-weight="normal" fill="#fff" stroke="#fff" stroke-width="0.75" stroke-linejoin="round">:</text>
<text transform="translate(993.40,293.50) scale(0.8570,1.0000)" font-size="22" font-weight="normal" fill="#fff" stroke="#fff" stroke-width="0.75" stroke-linejoin="round">דר׳ קוריאה</text>
</svg>
</body></html>
